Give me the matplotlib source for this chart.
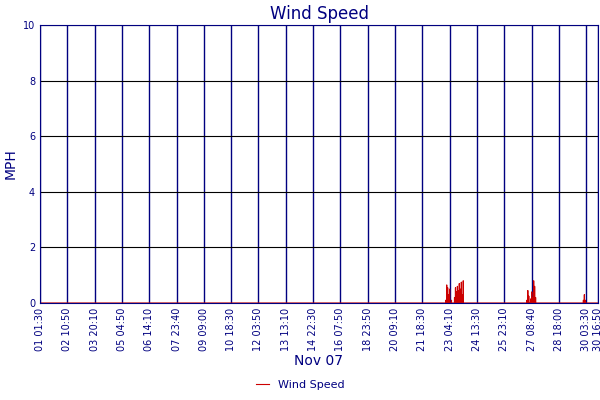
import numpy as np
import matplotlib.pyplot as plt

# samples every 10 minutes, index-based x axis
n_samples = 4088
tick_step = 200
tick_labels = ["01 01:30", "02 10:50", "03 20:10", "05 04:50", "06 14:10", "07 23:40",
               "09 09:00", "10 18:30", "12 03:50", "13 13:10", "14 22:30", "16 07:50",
               "18 23:50", "20 09:10", "21 18:30", "23 04:10", "24 13:30", "25 23:10",
               "27 08:40", "28 18:00", "30 03:30", "30 16:50"]

# non-zero readings (sample index, mph)
gust_idx = [2972, 2979, 2986, 2993, 3000, 3014, 3036, 3043, 3050, 3057, 3064, 3071,
            3079, 3086, 3093, 3100, 3566, 3573, 3580, 3595, 3602, 3609, 3616, 3623, 3630,
            3980, 3987, 3994]
gust_val = [0.1, 0.65, 0.55, 0.3, 0.5, 0.1, 0.2, 0.55, 0.4, 0.6, 0.45, 0.7,
            0.5, 0.75, 0.3, 0.8, 0.1, 0.45, 0.25, 0.15, 0.4, 0.2, 0.8, 0.6, 0.2,
            0.1, 0.3, 0.1]

speed = np.zeros(n_samples)
speed[gust_idx] = gust_val

navy = "#000080"
fig = plt.figure(figsize=(6, 4), dpi=100)
ax = fig.add_axes([40 / 600, 97 / 400, 558 / 600, 278 / 400])
ax.plot(np.arange(n_samples), speed, color="#cc0000", lw=0.8, label="Wind Speed")
ax.set_xlim(0, n_samples - 1)
ax.set_ylim(0, 10)

ticks = list(range(0, 4001, tick_step)) + [n_samples - 1]
ax.set_xticks(ticks)
ax.set_xticklabels(tick_labels, rotation=90, fontsize=7, color=navy)
ax.set_yticks([0, 2, 4, 6, 8, 10])
ax.tick_params(axis="y", labelsize=7, colors=navy, length=0)
ax.tick_params(axis="x", length=0)
ax.grid(axis="x", color=navy, lw=1)
ax.grid(axis="y", color="black", lw=0.8)
for s in ax.spines.values():
    s.set_color(navy)

ax.set_title("Wind Speed", color=navy, fontsize=12, pad=4)
ax.set_ylabel("MPH", color=navy, fontsize=10)
ax.set_xlabel("Nov 07", color=navy, fontsize=10, labelpad=2)
fig.legend(loc="lower center", bbox_to_anchor=(0.5, 0.0), frameon=False,
           fontsize=8, labelcolor=navy, handlelength=1.2)
fig.savefig("out.png", dpi=100)
